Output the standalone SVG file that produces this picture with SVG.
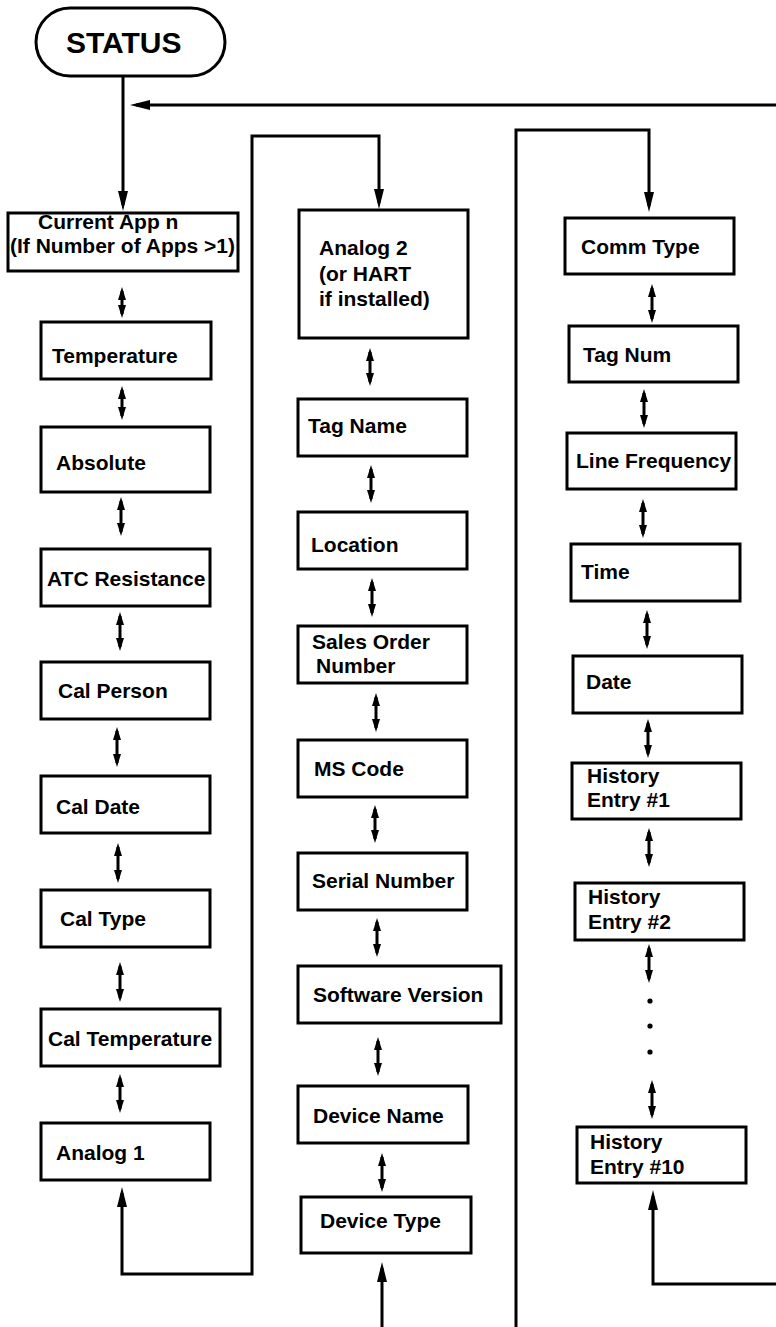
<svg xmlns="http://www.w3.org/2000/svg" width="776" height="1327" viewBox="0 0 776 1327">
<style>
.box{fill:#fff;stroke:#000;stroke-width:3}
.lbl{font-family:"Liberation Sans",Arial,sans-serif;font-weight:bold;font-size:21px;fill:#000}
.ttl{font-family:"Liberation Sans",Arial,sans-serif;font-weight:bold;font-size:30px;fill:#000}
.ln{fill:none;stroke:#000;stroke-width:3}
.arr{marker-end:url(#ah)}
.two{fill:none;stroke:#000;stroke-width:3;marker-start:url(#sh);marker-end:url(#sh)}
</style>
<defs>
<marker id="ah" markerUnits="userSpaceOnUse" markerWidth="20" markerHeight="10" refX="14" refY="5" orient="auto-start-reverse"><path d="M0,0 L20,5 L0,10 z" fill="#000"/></marker>
<marker id="sh" markerUnits="userSpaceOnUse" markerWidth="13" markerHeight="8" refX="9" refY="4" orient="auto-start-reverse"><path d="M0,0 L13,4 L0,8 z" fill="#000"/></marker>
</defs>
<rect width="776" height="1327" fill="#fff"/>
<g id="connectors">
<line class="ln arr" x1="123" y1="76" x2="123" y2="205"/>
<line class="ln arr" x1="776" y1="105" x2="136" y2="105"/>
<path class="ln" style="marker-start:url(#ah);marker-end:url(#ah)" d="M122,1193 L122,1274 L252,1274 L252,136 L379,136 L379,203"/>
<path class="ln arr" d="M516,1327 L516,130 L649,130 L649,206"/>
<line class="ln arr" x1="382" y1="1327" x2="382" y2="1268"/>
<path class="ln arr" d="M776,1284 L653,1284 L653,1196"/>
<line class="two" x1="122" y1="291" x2="122" y2="314"/>
<line class="two" x1="122" y1="390" x2="122" y2="416"/>
<line class="two" x1="121" y1="501" x2="121" y2="532"/>
<line class="two" x1="120" y1="616" x2="120" y2="647"/>
<line class="two" x1="117" y1="731" x2="117" y2="763"/>
<line class="two" x1="118" y1="847" x2="118" y2="879"/>
<line class="two" x1="120" y1="966" x2="120" y2="998"/>
<line class="two" x1="120" y1="1078" x2="120" y2="1109"/>
<line class="two" x1="370" y1="352" x2="370" y2="382"/>
<line class="two" x1="371" y1="469" x2="371" y2="499"/>
<line class="two" x1="372" y1="582" x2="372" y2="613"/>
<line class="two" x1="376" y1="697" x2="376" y2="728"/>
<line class="two" x1="375" y1="809" x2="375" y2="839"/>
<line class="two" x1="377" y1="922" x2="377" y2="953"/>
<line class="two" x1="378" y1="1041" x2="378" y2="1072"/>
<line class="two" x1="382" y1="1157" x2="382" y2="1188"/>
<line class="two" x1="652" y1="288" x2="652" y2="319"/>
<line class="two" x1="644" y1="393" x2="644" y2="424"/>
<line class="two" x1="643" y1="503" x2="643" y2="534"/>
<line class="two" x1="647" y1="614" x2="647" y2="645"/>
<line class="two" x1="648" y1="723" x2="648" y2="754"/>
<line class="two" x1="649" y1="832" x2="649" y2="863"/>
<line class="two" x1="649" y1="948" x2="649" y2="979"/>
<line class="two" x1="652" y1="1084" x2="652" y2="1115"/>
<circle cx="650" cy="1001" r="2.6" fill="#000"/>
<circle cx="650" cy="1026" r="2.6" fill="#000"/>
<circle cx="650" cy="1052" r="2.6" fill="#000"/>
</g>
<g id="status"><rect class="box" x="36" y="8" width="189" height="68" rx="34" ry="34" stroke-width="1.5"/><text class="ttl" x="66" y="53">STATUS</text></g>
<g id="current-app"><rect class="box" x="8" y="213" width="230" height="58"/><text class="lbl" x="38" y="229">Current App n</text><text class="lbl" x="10" y="253">(If Number of Apps &gt;1)</text></g>
<g id="temperature"><rect class="box" x="41" y="322" width="170" height="57"/><text class="lbl" x="52" y="363">Temperature</text></g>
<g id="absolute"><rect class="box" x="41" y="427" width="169" height="65"/><text class="lbl" x="56" y="470">Absolute</text></g>
<g id="atc-resistance"><rect class="box" x="41" y="549" width="169" height="57"/><text class="lbl" x="47" y="586">ATC Resistance</text></g>
<g id="cal-person"><rect class="box" x="41" y="662" width="169" height="57"/><text class="lbl" x="58" y="698">Cal Person</text></g>
<g id="cal-date"><rect class="box" x="41" y="776" width="169" height="57"/><text class="lbl" x="56" y="814">Cal Date</text></g>
<g id="cal-type"><rect class="box" x="41" y="890" width="169" height="57"/><text class="lbl" x="60" y="926">Cal Type</text></g>
<g id="cal-temperature"><rect class="box" x="41" y="1009" width="179" height="57"/><text class="lbl" x="48" y="1046">Cal Temperature</text></g>
<g id="analog-1"><rect class="box" x="41" y="1123" width="169" height="57"/><text class="lbl" x="56" y="1160">Analog 1</text></g>
<g id="analog-2"><rect class="box" x="299" y="210" width="169" height="128"/><text class="lbl" x="319" y="255">Analog 2</text><text class="lbl" x="319" y="281">(or HART</text><text class="lbl" x="319" y="306">if installed)</text></g>
<g id="tag-name"><rect class="box" x="298" y="399" width="169" height="57"/><text class="lbl" x="308" y="433">Tag Name</text></g>
<g id="location"><rect class="box" x="298" y="512" width="169" height="57"/><text class="lbl" x="311" y="552">Location</text></g>
<g id="sales-order"><rect class="box" x="298" y="626" width="169" height="57"/><text class="lbl" x="312" y="649">Sales Order</text><text class="lbl" x="316" y="673">Number</text></g>
<g id="ms-code"><rect class="box" x="298" y="740" width="169" height="57"/><text class="lbl" x="314" y="776">MS Code</text></g>
<g id="serial-number"><rect class="box" x="298" y="853" width="169" height="57"/><text class="lbl" x="312" y="888">Serial Number</text></g>
<g id="software-version"><rect class="box" x="298" y="966" width="203" height="57"/><text class="lbl" x="313" y="1002">Software Version</text></g>
<g id="device-name"><rect class="box" x="298" y="1086" width="170" height="57"/><text class="lbl" x="313" y="1123">Device Name</text></g>
<g id="device-type"><rect class="box" x="301" y="1197" width="170" height="56"/><text class="lbl" x="320" y="1228">Device Type</text></g>
<g id="comm-type"><rect class="box" x="565" y="218" width="169" height="56"/><text class="lbl" x="581" y="254">Comm Type</text></g>
<g id="tag-num"><rect class="box" x="569" y="326" width="169" height="56"/><text class="lbl" x="583" y="362">Tag Num</text></g>
<g id="line-frequency"><rect class="box" x="567" y="433" width="169" height="56"/><text class="lbl" x="576" y="468">Line Frequency</text></g>
<g id="time"><rect class="box" x="571" y="544" width="169" height="57"/><text class="lbl" x="581" y="579">Time</text></g>
<g id="date"><rect class="box" x="573" y="656" width="169" height="57"/><text class="lbl" x="586" y="689">Date</text></g>
<g id="history-1"><rect class="box" x="572" y="763" width="169" height="56"/><text class="lbl" x="587" y="783">History</text><text class="lbl" x="587" y="807">Entry #1</text></g>
<g id="history-2"><rect class="box" x="575" y="883" width="169" height="57"/><text class="lbl" x="588" y="904">History</text><text class="lbl" x="588" y="929">Entry #2</text></g>
<g id="history-10"><rect class="box" x="577" y="1127" width="169" height="56"/><text class="lbl" x="590" y="1149">History</text><text class="lbl" x="590" y="1174">Entry #10</text></g>
</svg>
